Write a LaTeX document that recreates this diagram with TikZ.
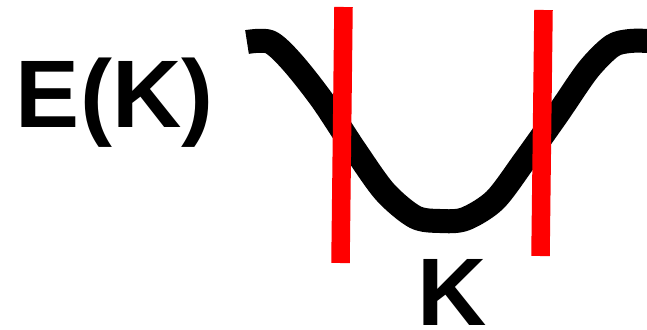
\documentclass[tikz,border=0pt]{standalone}
\usepackage{fontspec}
\setmainfont{Liberation Sans}
\begin{document}
\begin{tikzpicture}[x=1pt,y=-1pt,
  bigtxt/.style={inner sep=0pt,outer sep=0pt,font=\fontsize{96}{96}\selectfont\bfseries},
  curve/.style={line width=24pt,black,line join=round},
  redline/.style={line width=18.5pt,red}]
\useasboundingbox (0,0) rectangle (647,329);
\draw[curve] plot[smooth,tension=0.5] coordinates {(247,42) (270,42) (292,62) (322,100) (355,150) (385,192) (415,217) (440,221) (465,219) (495,200) (525,160) (557,115) (588,70) (612,46) (630,41) (650,41)};
\coordinate (r1a) at (343.5,7);
\coordinate (r1b) at (340.5,263);
\coordinate (r2a) at (543.5,10);
\coordinate (r2b) at (540.5,256);
\draw[redline] (r1a) -- (r1b);
\draw[redline] (r2a) -- (r2b);
\node[bigtxt,anchor=base west] (ek) at (16,127) {E(K)};
\node[bigtxt,anchor=base west] (k) at (417,325) {K};
\end{tikzpicture}
\end{document}
